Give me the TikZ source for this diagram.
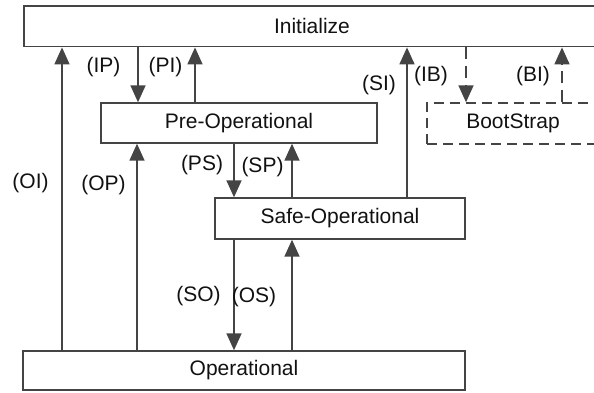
\documentclass[tikz,border=0pt]{standalone}
\usepackage{fontspec}
\setmainfont{Liberation Sans}
\usetikzlibrary{arrows.meta}
\definecolor{ln}{HTML}{444444}
\definecolor{tx}{HTML}{111111}
\begin{document}
\begin{tikzpicture}[x=1pt,y=-1pt,
  box/.style={draw=ln, line width=1.4pt, rectangle, inner sep=0pt, font=\fontsize{21}{24}\selectfont, text=tx},
  dbox/.style={box, dash pattern=on 10pt off 6pt},
  conn/.style={draw=ln, line width=1.7pt, -{Triangle[length=17pt,width=15pt]}},
  dconn/.style={conn, dash pattern=on 12pt off 7pt},
  lbl/.style={font=\fontsize{21}{24}\selectfont, inner sep=0pt, text=tx}]
\useasboundingbox (0,0) rectangle (594,392);
% boxes
\node[box, minimum width=576pt, minimum height=40.7pt] (init) at (312,26.35) {Initialize};
\node[box, minimum width=276pt, minimum height=40pt] (preop) at (239,123) {Pre-Operational};
\node[dbox, minimum width=172pt, minimum height=41pt] (boot) at (513,123.5) {BootStrap};
\node[box, minimum width=250pt, minimum height=41pt] (safe) at (340,218.5) {Safe-Operational};
\node[box, minimum width=442pt, minimum height=39pt] (oper) at (244,370.5) {Operational};
% columns
\coordinate (cOI) at (62,0);
\coordinate (cOP) at (137,0);
\coordinate (cIP) at (138,0);
\coordinate (cPI) at (195,0);
\coordinate (cPS) at (234,0);
\coordinate (cSP) at (292,0);
\coordinate (cSI) at (407,0);
\coordinate (cIB) at (466,0);
\coordinate (cBI) at (562,0);
% connectors
\draw[conn] (oper.north -| cOI) -- (init.south -| cOI);
\draw[conn] (oper.north -| cOP) -- (preop.south -| cOP);
\draw[conn] (init.south -| cIP) -- (preop.north -| cIP);
\draw[conn] (preop.north -| cPI) -- (init.south -| cPI);
\draw[conn] (preop.south -| cPS) -- (safe.north -| cPS);
\draw[conn] (safe.north -| cSP) -- (preop.south -| cSP);
\draw[conn] (safe.south -| cPS) -- (oper.north -| cPS);
\draw[conn] (oper.north -| cSP) -- (safe.south -| cSP);
\draw[conn] (safe.north -| cSI) -- (init.south -| cSI);
\draw[dconn] (init.south -| cIB) -- (boot.north -| cIB);
\draw[dconn] (boot.north -| cBI) -- (init.south -| cBI);
% labels
\node[lbl] (lIP) at (103.5,67) {(IP)};
\node[lbl] (lPI) at (165.5,67) {(PI)};
\node[lbl] (lSI) at (379,85) {(SI)};
\node[lbl] (lIB) at (431,76) {(IB)};
\node[lbl] (lBI) at (533,76) {(BI)};
\node[lbl] (lOI) at (30.5,183) {(OI)};
\node[lbl] (lOP) at (103.5,185) {(OP)};
\node[lbl] (lPS) at (202,165) {(PS)};
\node[lbl] (lSP) at (262.5,167) {(SP)};
\node[lbl] (lSO) at (198.5,296) {(SO)};
\node[lbl] (lOS) at (254,297) {(OS)};
\end{tikzpicture}
\end{document}
